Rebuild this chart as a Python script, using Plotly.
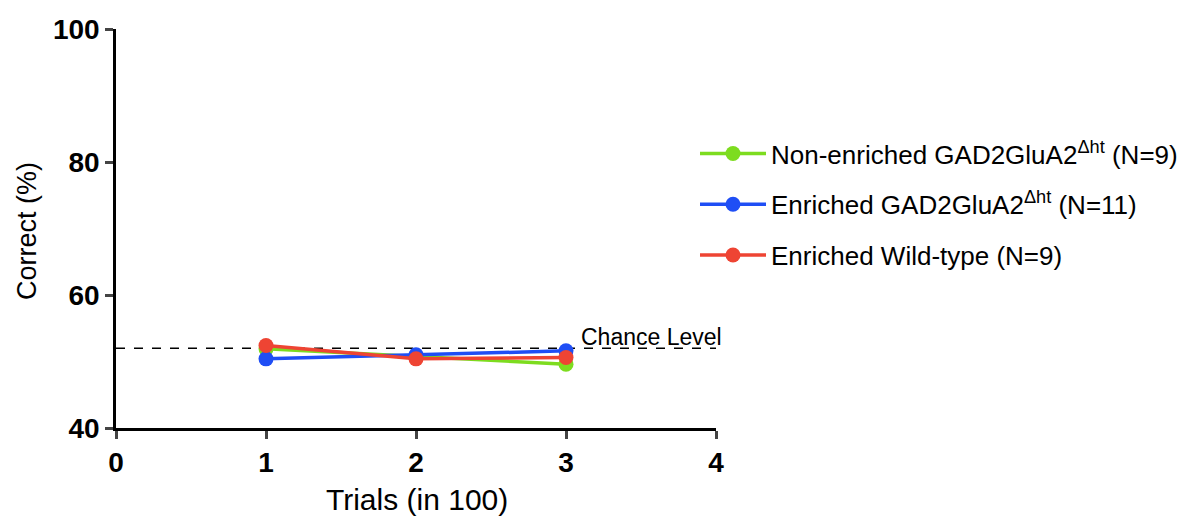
import plotly.graph_objects as go

trials = [1, 2, 3]
non_enriched = [51.9, 50.8, 49.6]
enriched_mut = [50.4, 51.0, 51.6]
enriched_wt = [52.4, 50.4, 50.6]
chance_level = 52.0
x_ticks = [0, 1, 2, 3, 4]
y_ticks = [40, 60, 80, 100]

names = [
    "Non-enriched GAD2GluA2<sup>Δht</sup> (N=9)",
    "Enriched GAD2GluA2<sup>Δht</sup> (N=11)",
    "Enriched Wild-type (N=9)",
]
colors = ["#7ddc1f", "#1f4ef5", "#ee4433"]
series = [non_enriched, enriched_mut, enriched_wt]

FONT = "Liberation Sans, Arial, Helvetica"

fig = go.Figure()

fig.add_trace(go.Scatter(
    x=[x_ticks[0], x_ticks[-1]], y=[chance_level, chance_level],
    mode="lines", line=dict(color="black", width=1.5, dash="dash"),
    showlegend=False, hoverinfo="skip"))

for i, (nm, col, vals) in enumerate(zip(names, colors, series)):
    fig.add_trace(go.Scatter(
        x=trials, y=vals, mode="lines+markers", name=nm,
        legendgroup=f"g{i}",
        line=dict(color=col, width=3.5),
        marker=dict(color=col, size=15)))

fig.add_annotation(
    x=3.57, y=chance_level, xref="x", yref="y", text="Chance Level",
    showarrow=False, xanchor="center", yanchor="bottom", yshift=-4,
    font=dict(size=23, color="black", family=FONT))

# axis titles
fig.add_annotation(
    x=0.502, y=-0.178, xref="paper", yref="paper", text="Trials (in 100)",
    showarrow=False, xanchor="center", yanchor="middle",
    font=dict(size=30, color="black", family=FONT))
fig.add_annotation(
    x=-0.148, y=0.494, xref="paper", yref="paper", text="Correct (%)",
    showarrow=False, xanchor="center", yanchor="middle", textangle=-90,
    font=dict(size=27, color="black", family=FONT))

fig.update_layout(
    width=1177, height=512,
    margin=dict(l=108, r=469, t=21, b=92, autoexpand=False),
    plot_bgcolor="white", paper_bgcolor="white",
    font=dict(family=FONT, color="black"),
    legend=dict(x=0.965, y=0.56, xanchor="left", yanchor="middle",
                font=dict(size=26, color="black"), tracegroupgap=14,
                itemwidth=66, bgcolor="rgba(0,0,0,0)"),
    xaxis=dict(range=[0, 4], tickvals=x_ticks, ticks="outside", ticklen=8,
               tickwidth=2.5, showline=True, linewidth=2.5, linecolor="black",
               showgrid=False, zeroline=False, automargin=False,
               tickfont=dict(size=28, family=FONT, weight="bold")),
    yaxis=dict(range=[40, 100], tickvals=y_ticks, ticks="outside", ticklen=8,
               tickwidth=2.5, showline=True, linewidth=2.5, linecolor="black",
               showgrid=False, zeroline=False, automargin=False,
               tickfont=dict(size=28, family=FONT, weight="bold")),
)

fig.write_html("out.html")
